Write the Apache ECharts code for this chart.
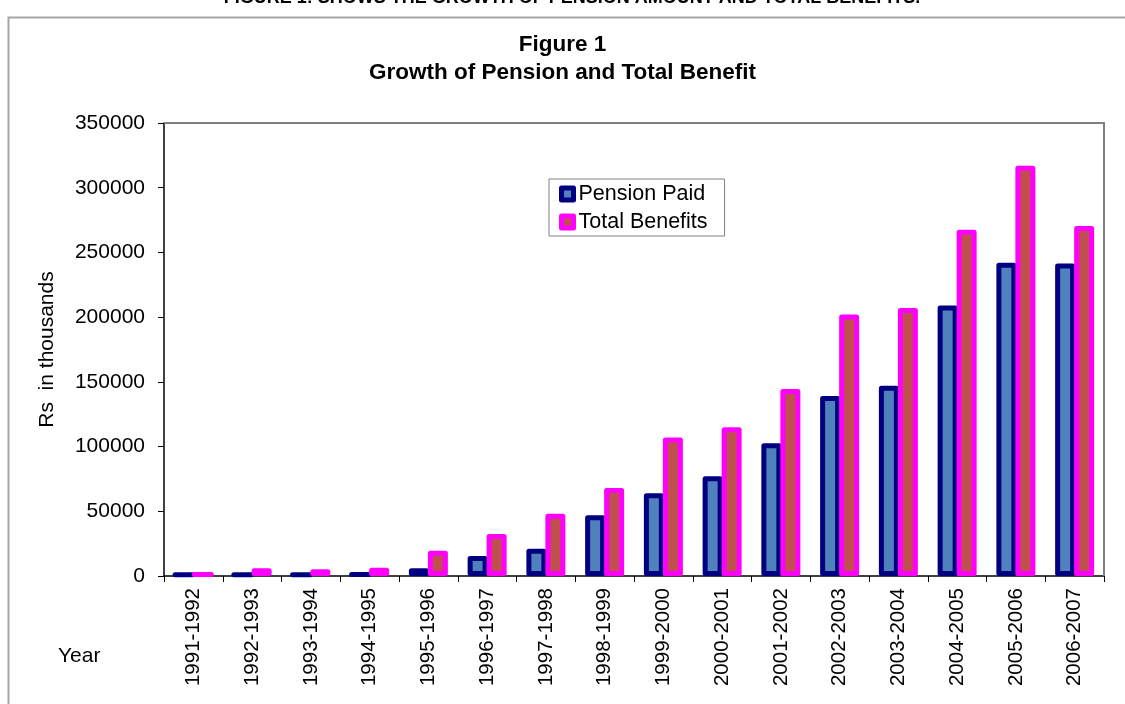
<!DOCTYPE html>
<html>
<head>
<meta charset="utf-8">
<script src="https://cdn.jsdelivr.net/npm/echarts@6/dist/echarts.min.js"></script>
<style>html,body{margin:0;padding:0;background:#fff}#c{width:1125px;height:704px}</style>
</head>
<body>
<div id="c"></div>
<script>
const categories = ['1991-1992','1992-1993','1993-1994','1994-1995','1995-1996','1996-1997','1997-1998','1998-1999','1999-2000','2000-2001','2001-2002','2002-2003','2003-2004','2004-2005','2005-2006','2006-2007'];
const pensionPaid = [1900, 1900, 1900, 2300, 5900, 15500, 21000, 47000, 64000, 77000, 102500, 139000, 147000, 209000, 242000, 241500];
const totalBenefits = [2300, 5900, 5200, 6400, 19500, 32500, 48000, 68000, 107000, 115000, 144500, 202000, 207000, 267500, 317000, 270500];
const yTicks = [0, 50000, 100000, 150000, 200000, 250000, 300000, 350000];

const FONT = '"Liberation Sans", Arial, sans-serif';
const chart = echarts.init(document.getElementById('c'), null, {renderer: 'canvas'});
chart.setOption({
  animation: false,
  backgroundColor: '#fff',
  textStyle: {fontFamily: FONT},
  title: {
    text: 'Figure 1\nGrowth of Pension and Total Benefit',
    left: 'center', top: 26,
    textStyle: {fontFamily: FONT, fontSize: 22.5, fontWeight: 'bold', color: '#000', lineHeight: 28}
  },
  legend: {
    orient: 'vertical',
    left: 549, top: 179,
    padding: [4, 17, 3, 10],
    itemGap: 6,
    itemWidth: 12, itemHeight: 12,
    backgroundColor: '#fff',
    borderColor: '#808080', borderWidth: 1,
    textStyle: {fontFamily: FONT, fontSize: 21.5, color: '#000', lineHeight: 22},
    data: [
      {name: 'Pension Paid', icon: 'rect', itemStyle: {color: '#4F81BD', borderColor: '#000080', borderWidth: 5}},
      {name: 'Total Benefits', icon: 'rect', itemStyle: {color: '#C0504D', borderColor: '#FF00FF', borderWidth: 5}}
    ]
  },
  grid: {left: 164, right: 21, top: 123, bottom: 128, show: false},
  xAxis: {
    type: 'category',
    data: categories,
    axisLine: {lineStyle: {color: '#000', width: 1.5}},
    axisTick: {show: true, length: 6, lineStyle: {color: '#000'}},
    axisLabel: {rotate: 90, margin: 12, fontSize: 20.5, color: '#000', fontFamily: FONT}
  },
  yAxis: {
    type: 'value',
    min: 0, max: 350000, interval: 50000,
    name: 'Rs  in thousands',
    nameLocation: 'middle',
    nameGap: 106,
    nameTextStyle: {fontSize: 21, color: '#000', fontFamily: FONT},
    axisLine: {show: true, lineStyle: {color: '#000', width: 1.5}},
    axisTick: {show: true, length: 6, lineStyle: {color: '#000'}},
    splitLine: {show: false},
    axisLabel: {margin: 19, fontSize: 21, color: '#000', fontFamily: FONT,
      formatter: v => yTicks.includes(v) ? String(v) : ''}
  },
  series: [
    {
      name: 'Pension Paid', type: 'bar', data: pensionPaid,
      barWidth: 20, barGap: '-5%',
      itemStyle: {color: '#4F81BD', borderColor: '#000080', borderWidth: 5, borderJoin: 'round'}
    },
    {
      name: 'Total Benefits', type: 'bar', data: totalBenefits,
      barWidth: 20, barGap: '-5%',
      itemStyle: {color: '#C0504D', borderColor: '#FF00FF', borderWidth: 5, borderJoin: 'round'}
    }
  ],
  graphic: [
    {type: 'rect', silent: true, z: -1, shape: {x: 8.5, y: 17.5, width: 1130, height: 700},
      style: {fill: 'none', stroke: '#a6a6a6', lineWidth: 2}},
    {type: 'polyline', silent: true, z: 1, shape: {points: [[164, 123], [1104, 123], [1104, 576]]},
      style: {fill: 'none', stroke: '#808080', lineWidth: 2}},
    {type: 'text', silent: true, x: 572, y: -11,
      style: {text: 'FIGURE 1: SHOWS THE GROWTH OF PENSION AMOUNT AND TOTAL BENEFITS.', font: 'bold 18px ' + FONT, fill: '#000', align: 'center'}},
    {type: 'text', silent: true, left: 58, top: 646,
      style: {text: 'Year', font: '21px ' + FONT, fill: '#000'}}
  ]
});
</script>
</body>
</html>
